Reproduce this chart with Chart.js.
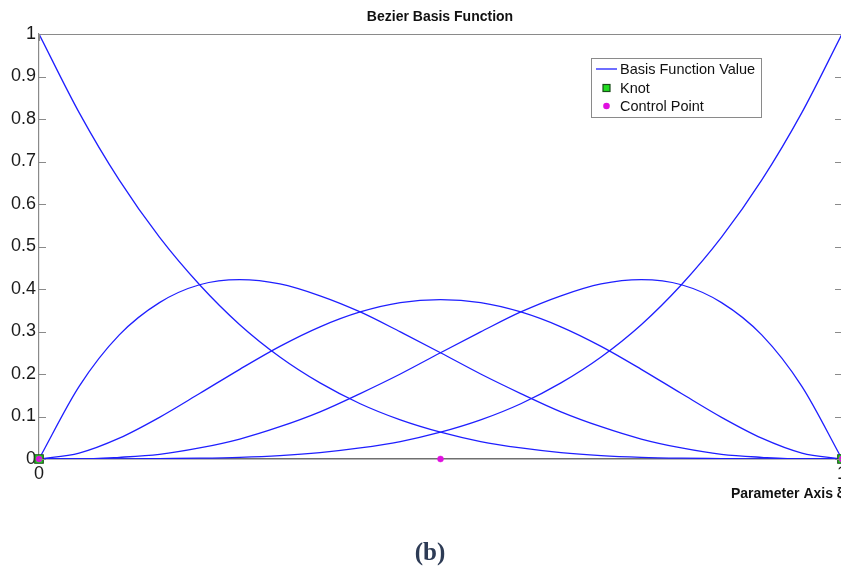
<!DOCTYPE html>
<html>
<head>
<meta charset="utf-8">
<style>
  html, body { margin: 0; padding: 0; background: #fff; overflow: hidden; }
  #wrap { position: absolute; left: 0; top: 0; width: 880px; height: 569px; }
  #caption {
    position: absolute; left: 0; top: 535px; width: 860px; text-align: center;
    font-family: "Liberation Serif", "DejaVu Serif", serif; font-weight: bold;
    font-size: 25px; color: #2d3b55; line-height: 34px;
  }
</style>
<script src="https://cdn.jsdelivr.net/npm/chart.js@4/dist/chart.umd.min.js"></script>
</head>
<body>
<div id="wrap"><canvas id="c" width="880" height="569"></canvas></div>
<div id="caption">(b)</div>
<script>
// Parameter samples along the axis
const params = [0, 0.05, 0.1, 0.15, 0.2, 0.25, 0.3, 0.35, 0.4, 0.45, 0.5,
                0.55, 0.6, 0.65, 0.7, 0.75, 0.8, 0.85, 0.9, 0.95, 1];

// Quartic Bezier basis function values at each sample
const basis0 = [1, 0.815, 0.656, 0.522, 0.410, 0.316, 0.240, 0.179, 0.130, 0.092, 0.063,
                0.041, 0.026, 0.015, 0.008, 0.004, 0.002, 0.001, 0, 0, 0];
const basis1 = [0, 0.171, 0.292, 0.368, 0.410, 0.422, 0.412, 0.384, 0.346, 0.299, 0.250,
                0.200, 0.154, 0.111, 0.076, 0.047, 0.026, 0.011, 0.004, 0, 0];
const basis2 = [0, 0.014, 0.049, 0.098, 0.154, 0.211, 0.265, 0.311, 0.346, 0.368, 0.375,
                0.368, 0.346, 0.311, 0.265, 0.211, 0.154, 0.098, 0.049, 0.014, 0];
const basis3 = [0, 0, 0.004, 0.011, 0.026, 0.047, 0.076, 0.111, 0.154, 0.200, 0.250,
                0.299, 0.346, 0.384, 0.412, 0.422, 0.410, 0.368, 0.292, 0.171, 0];
const basis4 = [0, 0, 0, 0.001, 0.002, 0.004, 0.008, 0.015, 0.026, 0.041, 0.063,
                0.092, 0.130, 0.179, 0.240, 0.316, 0.410, 0.522, 0.656, 0.815, 1];

// Knots and control points along the parameter axis
const knotParams = [0, 1];
const knotValues = [0, 0];
const controlParams = [0, 0.5, 1];
const controlValues = [0, 0, 0];

// Axis tick labels
const yTickValues = [0, 0.1, 0.2, 0.3, 0.4, 0.5, 0.6, 0.7, 0.8, 0.9, 1];
const xTickValues = [0, 1];

const titleText = 'Bezier Basis Function';
const xAxisText = 'Parameter Axis \u03BE';
const legendLabels = ['Basis Function Value', 'Knot', 'Control Point'];

const lineColor = '#1f1fff';
const knotFill = '#22dd22';
const knotEdge = '#1a4d1a';
const ctrlColor = '#e010e0';
const frameColor = '#8a8a8a';

const toPts = (xs, ys) => xs.map((x, i) => ({ x: x, y: ys[i] }));

const curveSet = (vals) => ({
  type: 'line',
  data: toPts(params, vals),
  borderColor: lineColor,
  borderWidth: 1.3,
  pointRadius: 0,
  cubicInterpolationMode: 'monotone',
  fill: false,
  order: 2
});

// Frame, inward ticks, title, axis caption and legend box
const decorations = {
  id: 'decorations',
  afterDatasetsDraw(chart) {
    const { ctx, chartArea: a, scales } = chart;
    const ys = scales.y, xs = scales.x;
    ctx.save();
    ctx.strokeStyle = frameColor;
    ctx.lineWidth = 1.2;
    ctx.beginPath();
    ctx.moveTo(a.left, a.top + 0.5); ctx.lineTo(a.right, a.top + 0.5);
    yTickValues.forEach(v => {
      const py = Math.round(ys.getPixelForValue(v)) + 0.5;
      ctx.moveTo(a.left, py); ctx.lineTo(a.left + 7, py);
      ctx.moveTo(a.right, py); ctx.lineTo(a.right - 7, py);
    });
    xTickValues.forEach(v => {
      const px = Math.round(xs.getPixelForValue(v)) + 0.5;
      ctx.moveTo(px, a.top); ctx.lineTo(px, a.top + 7);
    });
    ctx.stroke();

    // title
    ctx.fillStyle = '#111';
    ctx.font = 'bold 14px "Liberation Sans", Arial, sans-serif';
    ctx.textAlign = 'center';
    ctx.textBaseline = 'middle';
    ctx.fillText(titleText, 440, 17);

    // axis caption
    ctx.textAlign = 'left';
    ctx.fillText(xAxisText, 731, 494);

    // legend
    const lx = 591.5, ly = 58.5, lw = 170, lh = 59;
    ctx.fillStyle = '#fff';
    ctx.fillRect(lx, ly, lw, lh);
    ctx.strokeStyle = '#8a8a8a';
    ctx.lineWidth = 1;
    ctx.strokeRect(lx, ly, lw, lh);
    ctx.font = '14.5px "Liberation Sans", Arial, sans-serif';
    const rows = [69, 88, 106];
    ctx.strokeStyle = lineColor;
    ctx.lineWidth = 1.3;
    ctx.beginPath();
    ctx.moveTo(596, rows[0]); ctx.lineTo(617, rows[0]);
    ctx.stroke();
    ctx.fillStyle = knotFill;
    ctx.fillRect(603, rows[1] - 3.5, 7, 7);
    ctx.strokeStyle = knotEdge;
    ctx.lineWidth = 1.2;
    ctx.strokeRect(603, rows[1] - 3.5, 7, 7);
    ctx.fillStyle = ctrlColor;
    ctx.beginPath();
    ctx.arc(606.5, rows[2], 3.3, 0, Math.PI * 2);
    ctx.fill();
    ctx.fillStyle = '#111';
    legendLabels.forEach((t, i) => ctx.fillText(t, 620, rows[i] + 1));
    ctx.restore();
  }
};

new Chart(document.getElementById('c'), {
  type: 'line',
  data: {
    datasets: [
      curveSet(basis0), curveSet(basis1), curveSet(basis2), curveSet(basis3), curveSet(basis4),
      {
        type: 'line', label: legendLabels[1],
        data: toPts(knotParams, knotValues),
        showLine: false, pointStyle: 'rect', pointRadius: 6,
        pointBackgroundColor: knotFill, pointBorderColor: knotEdge, pointBorderWidth: 1.2,
        clip: false, order: 1
      },
      {
        type: 'line', label: legendLabels[2],
        data: toPts(controlParams, controlValues),
        showLine: false, pointStyle: 'circle', pointRadius: 3,
        pointBackgroundColor: ctrlColor, pointBorderColor: ctrlColor, pointBorderWidth: 0.5,
        clip: false, order: 0
      }
    ]
  },
  options: {
    responsive: false,
    animation: false,
    devicePixelRatio: 1,
    layout: { padding: { top: 34, right: 38, left: 0, bottom: 0 } },
    plugins: { legend: { display: false }, title: { display: false }, tooltip: { enabled: false } },
    elements: { point: { hoverRadius: 0 } },
    scales: {
      x: {
        type: 'linear', min: 0, max: 1,
        afterBuildTicks: (s) => { s.ticks = xTickValues.map(v => ({ value: v })); },
        afterFit: (s) => { s.height = 110; },
        grid: { drawOnChartArea: false, drawTicks: false },
        border: { display: true, color: '#6f6f6f', width: 1.6 },
        ticks: {
          padding: 4, color: '#1a1a1a', maxRotation: 0,
          font: { family: '"Liberation Sans", Arial, sans-serif', size: 18 },
          callback: (v) => String(v)
        }
      },
      y: {
        type: 'linear', min: 0, max: 1,
        afterBuildTicks: (s) => { s.ticks = yTickValues.map(v => ({ value: v })); },
        afterFit: (s) => { s.width = 39; },
        grid: { drawOnChartArea: false, drawTicks: false },
        border: { display: true, color: frameColor, width: 1.2 },
        ticks: {
          padding: 3, color: '#1a1a1a',
          font: { family: '"Liberation Sans", Arial, sans-serif', size: 18 },
          callback: (v) => String(v)
        }
      }
    }
  },
  plugins: [decorations]
});
</script>
</body>
</html>
